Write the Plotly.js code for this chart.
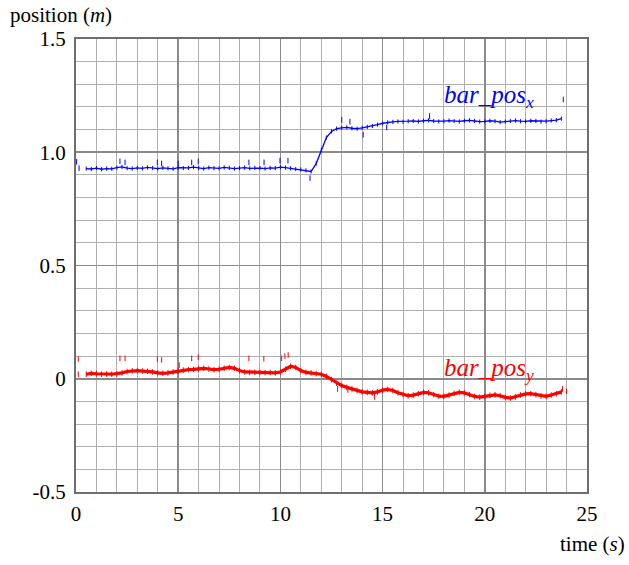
<!DOCTYPE html>
<html>
<head>
<meta charset="utf-8">
<script src="https://cdn.plot.ly/plotly-3.0.1.min.js"></script>
<style>
html,body{margin:0;padding:0;background:#fff;}
#chart{width:629px;height:565px;}
#chart svg text{font-family:"Liberation Serif","Times New Roman",Times,serif !important;}
</style>
</head>
<body>
<div id="chart"></div>
<script>
// ---- data ----
const time = [0.5,0.75,1,1.25,1.5,1.75,2,2.25,2.5,2.75,3,3.25,3.5,3.75,4,4.25,4.5,4.75,5,5.25,5.5,5.75,6,6.25,6.5,6.75,7,7.25,7.5,7.75,8,8.25,8.5,8.75,9,9.25,9.5,9.75,10,10.25,10.5,10.75,11,11.25,11.5,11.75,12,12.25,12.5,12.75,13,13.25,13.5,13.75,14,14.25,14.5,14.75,15,15.25,15.5,15.75,16,16.25,16.5,16.75,17,17.25,17.5,17.75,18,18.25,18.5,18.75,19,19.25,19.5,19.75,20,20.25,20.5,20.75,21,21.25,21.5,21.75,22,22.25,22.5,22.75,23,23.25,23.5,23.75];

const barPosX = [0.928,0.926,0.930,0.925,0.928,0.927,0.932,0.935,0.930,0.928,
  0.931,0.929,0.933,0.930,0.928,0.931,0.929,0.927,0.932,0.930,
  0.931,0.934,0.930,0.928,0.932,0.930,0.929,0.933,0.931,0.928,
  0.930,0.932,0.929,0.931,0.930,0.928,0.931,0.930,0.934,0.932,
  0.929,0.926,0.924,0.920,0.915,0.950,1.010,1.065,1.092,1.104,
  1.108,1.110,1.106,1.104,1.108,1.112,1.116,1.122,1.128,1.132,
  1.134,1.136,1.135,1.137,1.138,1.136,1.139,1.141,1.138,1.136,
  1.137,1.140,1.138,1.136,1.139,1.141,1.138,1.135,1.136,1.139,
  1.137,1.133,1.135,1.138,1.140,1.137,1.136,1.139,1.138,1.135,
  1.137,1.140,1.142,1.148];

const barPosY = [0.020,0.024,0.022,0.020,0.021,0.020,0.022,0.026,0.032,0.035,
  0.036,0.034,0.033,0.030,0.026,0.024,0.026,0.030,0.034,0.038,
  0.040,0.041,0.044,0.046,0.043,0.040,0.042,0.046,0.050,0.046,
  0.036,0.030,0.028,0.029,0.028,0.027,0.028,0.026,0.030,0.042,
  0.055,0.050,0.036,0.028,0.026,0.023,0.020,0.010,-0.004,-0.020,
  -0.030,-0.038,-0.045,-0.052,-0.058,-0.060,-0.062,-0.058,-0.050,-0.047,
  -0.052,-0.062,-0.070,-0.075,-0.072,-0.066,-0.060,-0.062,-0.070,-0.077,
  -0.078,-0.072,-0.065,-0.060,-0.062,-0.070,-0.078,-0.081,-0.078,-0.073,
  -0.071,-0.075,-0.082,-0.085,-0.080,-0.072,-0.067,-0.066,-0.070,-0.076,
  -0.078,-0.072,-0.066,-0.058];

const outlierTimeX = [0.03,0.15,2.15,2.4,3.98,4.19,5.0,5.66,5.98,8.46,9.2,9.98,10.37,11.45,13.0,13.4,14.05,15.2,17.3,23.84];
const outlierValX  = [0.958,0.93,0.96,0.955,0.955,0.95,0.95,0.955,0.96,0.955,0.955,0.963,0.963,0.886,1.143,1.135,1.077,1.11,1.16,1.233];

const outlierTimeY = [0.11,0.11,2.15,2.4,3.98,4.19,5.05,5.66,5.98,8.46,9.19,10.06,10.22,10.38,12.8,13.3,14.6,23.8,24.0];
const outlierValY  = [0.087,0.02,0.09,0.09,0.087,0.083,0.06,0.09,0.095,0.09,0.088,0.09,0.1,0.105,-0.045,-0.05,-0.08,-0.045,-0.055];

const yTickVals = [-0.5,0,0.5,1.0,1.5];
const yTickText = ['-0.5','0','0.5','1.0','1.5'];
const xTickVals = [0,5,10,15,20,25];
const xTickText = ['0','5','10','15','20','25'];

const BLUE = '#0000ff', RED = '#ff0000';
const serif = 'Liberation Serif';

const traces = [
  {x: time, y: barPosX, mode: 'lines+markers', line: {color: BLUE, width: 1.3},
   marker: {symbol: 'line-ns', size: 3, line: {color: BLUE, width: 1}}, hoverinfo: 'skip'},
  {x: outlierTimeX, y: outlierValX, mode: 'markers',
   marker: {symbol: 'line-ns', size: 4, line: {color: BLUE, width: 1}}, hoverinfo: 'skip'},
  {x: time, y: barPosY, mode: 'lines+markers', line: {color: RED, width: 3.2},
   marker: {symbol: 'line-ns', size: 4, line: {color: RED, width: 1}}, hoverinfo: 'skip'},
  {x: outlierTimeY, y: outlierValY, mode: 'markers',
   marker: {symbol: 'line-ns', size: 4, line: {color: RED, width: 1}}, hoverinfo: 'skip'}
];

const layout = {
  width: 629, height: 565,
  margin: {l: 76, r: 42, t: 39, b: 73},
  paper_bgcolor: '#fff', plot_bgcolor: '#fff',
  showlegend: false,
  font: {family: serif, size: 21, color: '#000'},
  xaxis: {
    range: [0, 25], tickmode: 'array', tickvals: xTickVals, ticktext: xTickText,
    showgrid: true, gridcolor: '#8a8a8a', gridwidth: 1.6, zeroline: false,
    showline: true, mirror: true, linecolor: '#6e6e6e', linewidth: 2,
    ticks: '', ticklabelstandoff: 2,
    minor: {tickmode: 'linear', tick0: 0, dtick: 1, showgrid: true, gridcolor: '#b0b0b0', gridwidth: 1, ticks: ''},
    tickfont: {family: serif, size: 21, color: '#000'}
  },
  yaxis: {
    range: [-0.5, 1.5], tickmode: 'array', tickvals: yTickVals, ticktext: yTickText,
    showgrid: true, gridcolor: '#8a8a8a', gridwidth: 1.6, zeroline: false,
    showline: true, mirror: true, linecolor: '#6e6e6e', linewidth: 2,
    ticks: '', ticklabelstandoff: 4,
    minor: {tickmode: 'linear', tick0: 0, dtick: 0.1, showgrid: true, gridcolor: '#b0b0b0', gridwidth: 1, ticks: ''},
    tickfont: {family: serif, size: 21, color: '#000'}
  },
  annotations: [
    {xref: 'paper', yref: 'paper', x: -0.133, y: 1.083, xanchor: 'left', yanchor: 'top',
     text: 'position (<i>m</i>)', showarrow: false, font: {family: serif, size: 21, color: '#000'}},
    {xref: 'paper', yref: 'paper', x: 1.078, y: -0.146, xanchor: 'right', yanchor: 'bottom',
     text: 'time (<i>s</i>)', showarrow: false, font: {family: serif, size: 21, color: '#000'}},
    {xref: 'x', yref: 'y', x: 17.9, y: 1.244, xanchor: 'left', yanchor: 'middle',
     text: '<i>bar_pos<sub>x</sub></i>', showarrow: false, font: {family: serif, size: 25, color: BLUE}},
    {xref: 'x', yref: 'y', x: 17.9, y: 0.039, xanchor: 'left', yanchor: 'middle',
     text: '<i>bar_pos<sub>y</sub></i>', showarrow: false, font: {family: serif, size: 25, color: RED}}
  ]
};

Plotly.newPlot('chart', traces, layout, {displayModeBar: false, staticPlot: true});
</script>
</body>
</html>
